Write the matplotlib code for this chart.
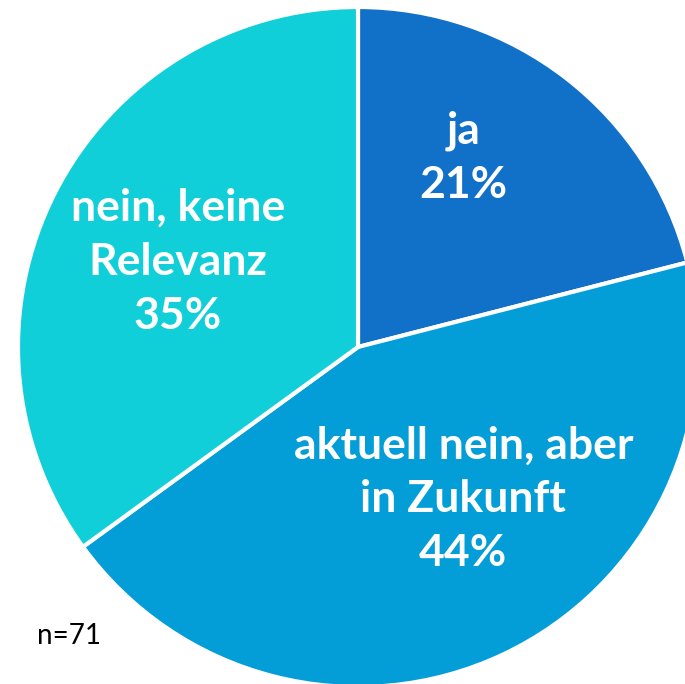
import matplotlib.pyplot as plt

labels = ["ja", "aktuell nein, aber\nin Zukunft", "nein, keine\nRelevanz"]
shares = [21, 44, 35]
colors = ["#1170C7", "#039ED8", "#10CFD8"]
n_total = 71

# label centres in pie units (center = 0,0, radius = 1)
label_pos = [(0.31, 0.557), (0.31, -0.448), (-0.53, 0.25)]

R_PX = 340.0
CX, CY = 358.0, 347.0
W, H = 685, 684

fig = plt.figure(figsize=(W / 100, H / 100), dpi=100)
ax = fig.add_axes([0, 0, 1, 1])
ax.pie(shares, colors=colors, startangle=90, counterclock=False,
       radius=1.0, wedgeprops=dict(edgecolor="white", linewidth=3))
ax.set_aspect("auto")
ax.set_xlim(-CX / R_PX, (W - CX) / R_PX)
ax.set_ylim(-(H - CY) / R_PX, CY / R_PX)
ax.axis("off")

for lab, val, (x, y) in zip(labels, shares, label_pos):
    ax.text(x, y, f"{lab}\n{val}%", ha="center", va="center",
            color="white", fontsize=32, fontweight="bold", family="Lato",
            linespacing=1.42)

ax.text(37 / R_PX - CX / R_PX, (CY - 636) / R_PX, f"n={n_total}",
        ha="left", va="center", fontsize=20, family="Lato", color="black")

fig.savefig("out.png", dpi=100)
